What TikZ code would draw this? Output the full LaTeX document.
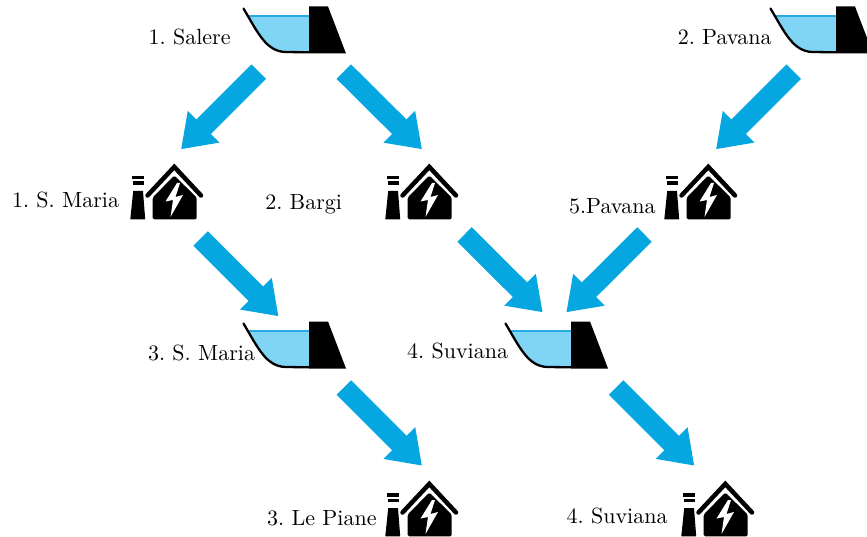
\documentclass[tikz,border=0pt]{standalone}
\usetikzlibrary{arrows.meta}
\definecolor{flowblue}{HTML}{06A7E0}
\definecolor{waterblue}{HTML}{7FD5F3}
\definecolor{waterline}{HTML}{29ABE2}
\tikzset{
    flow/.style={draw=flowblue, line width=20.5pt, -{Triangle[length=32pt, width=42.6pt, fill=flowblue]}},
    lbl/.style={inner sep=0pt, scale=2.2, anchor=base east, font=\frenchspacing},
    dam/.pic={
        \fill[waterblue] (6,8.2) .. controls (16,27) and (24,43) .. (42,44) -- (66,44) -- (66,8.2) -- cycle;
        \draw[waterline, line width=1.6pt] (6,8.2) -- (66,8.2);
        \draw[line width=2.3pt, line cap=round] (0.5,0.5) .. controls (15,25) and (23,43) .. (42,44) -- (66,44.3);
        \fill (66,-1.5) -- (85,-1.5) -- (103,45.5) -- (66,45.5) -- cycle;
    },
    plant/.pic={
        \fill (2.3,11.7) rectangle (14,15.5);
        \fill (3,17.5) rectangle (13.5,21.3);
        \fill (3.2,27) -- (13,27) -- (15.2,55.3) -- (0.3,55.3) -- cycle;
        \draw[line width=4.5pt, line cap=round] (17.5,31.5) -- (44.3,2.9) -- (71,31.5);
        \fill[rounded corners=1.5pt] (22.7,33.5) -- (44.3,11.5) -- (66.7,33.5) -- (66.7,55.3) -- (22.7,55.3) -- cycle;
        \fill[white] (47,19) -- (35.5,37.5) -- (43,36) -- (40.5,53) -- (53,31) -- (45.5,33) -- (50,19) -- cycle;
    },
}
\begin{document}
\begin{tikzpicture}[x=1pt, y=-1pt]
    \useasboundingbox (0,0) rectangle (867,537);
    % dams
    \pic at (243,8) {dam};
    \pic at (770,8) {dam};
    \pic at (243,323) {dam};
    \pic at (505,323) {dam};
    % power plants
    \pic at (130,164) {plant};
    \pic at (385,164) {plant};
    \pic at (664,164) {plant};
    \pic at (385,481) {plant};
    \pic at (681,481) {plant};
    % labels
    \node[lbl] (salere) at (231,45) {1. Salere};
    \node[lbl] (pavana) at (772,45) {2. Pavana};
    \node[lbl] (smaria) at (119.5,208) {1. S. Maria};
    \node[lbl] (bargi) at (342.5,210) {2. Bargi};
    \node[lbl] (pavanap) at (656,214) {5.Pavana};
    \node[lbl] (smariad) at (255.5,360) {3. S. Maria};
    \node[lbl] (suvianad) at (508.5,358) {4. Suviana};
    \node[lbl] (lepiane) at (377,525) {3. Le Piane};
    \node[lbl] (suviana) at (668,523) {4. Suviana};
    % ends of the flows
    \coordinate (salere-l) at (258.8,71.6);
    \coordinate (salere-r) at (343.8,71.6);
    \coordinate (pavana-out) at (793.8,71.6);
    \coordinate (smaria-in) at (181,149.3);
    \coordinate (bargi-in) at (422,149.3);
    \coordinate (pavanap-in) at (716,149.3);
    \coordinate (smaria-out) at (200.7,238.5);
    \coordinate (bargi-out) at (464.5,234.5);
    \coordinate (pavanap-out) at (644.5,234.5);
    \coordinate (smariad-in) at (278.5,316.3);
    \coordinate (suvianad-l) at (542.7,312.3);
    \coordinate (suvianad-r) at (566.3,312.3);
    \coordinate (smariad-out) at (343.8,387.5);
    \coordinate (suvianad-out) at (616.2,387.5);
    \coordinate (lepiane-in) at (422,465.7);
    \coordinate (suviana-in) at (694.3,465.7);
    % flows
    \draw[flow] (salere-l) -- (smaria-in);
    \draw[flow] (salere-r) -- (bargi-in);
    \draw[flow] (pavana-out) -- (pavanap-in);
    \draw[flow] (smaria-out) -- (smariad-in);
    \draw[flow] (bargi-out) -- (suvianad-l);
    \draw[flow] (pavanap-out) -- (suvianad-r);
    \draw[flow] (smariad-out) -- (lepiane-in);
    \draw[flow] (suvianad-out) -- (suviana-in);
\end{tikzpicture}
\end{document}
